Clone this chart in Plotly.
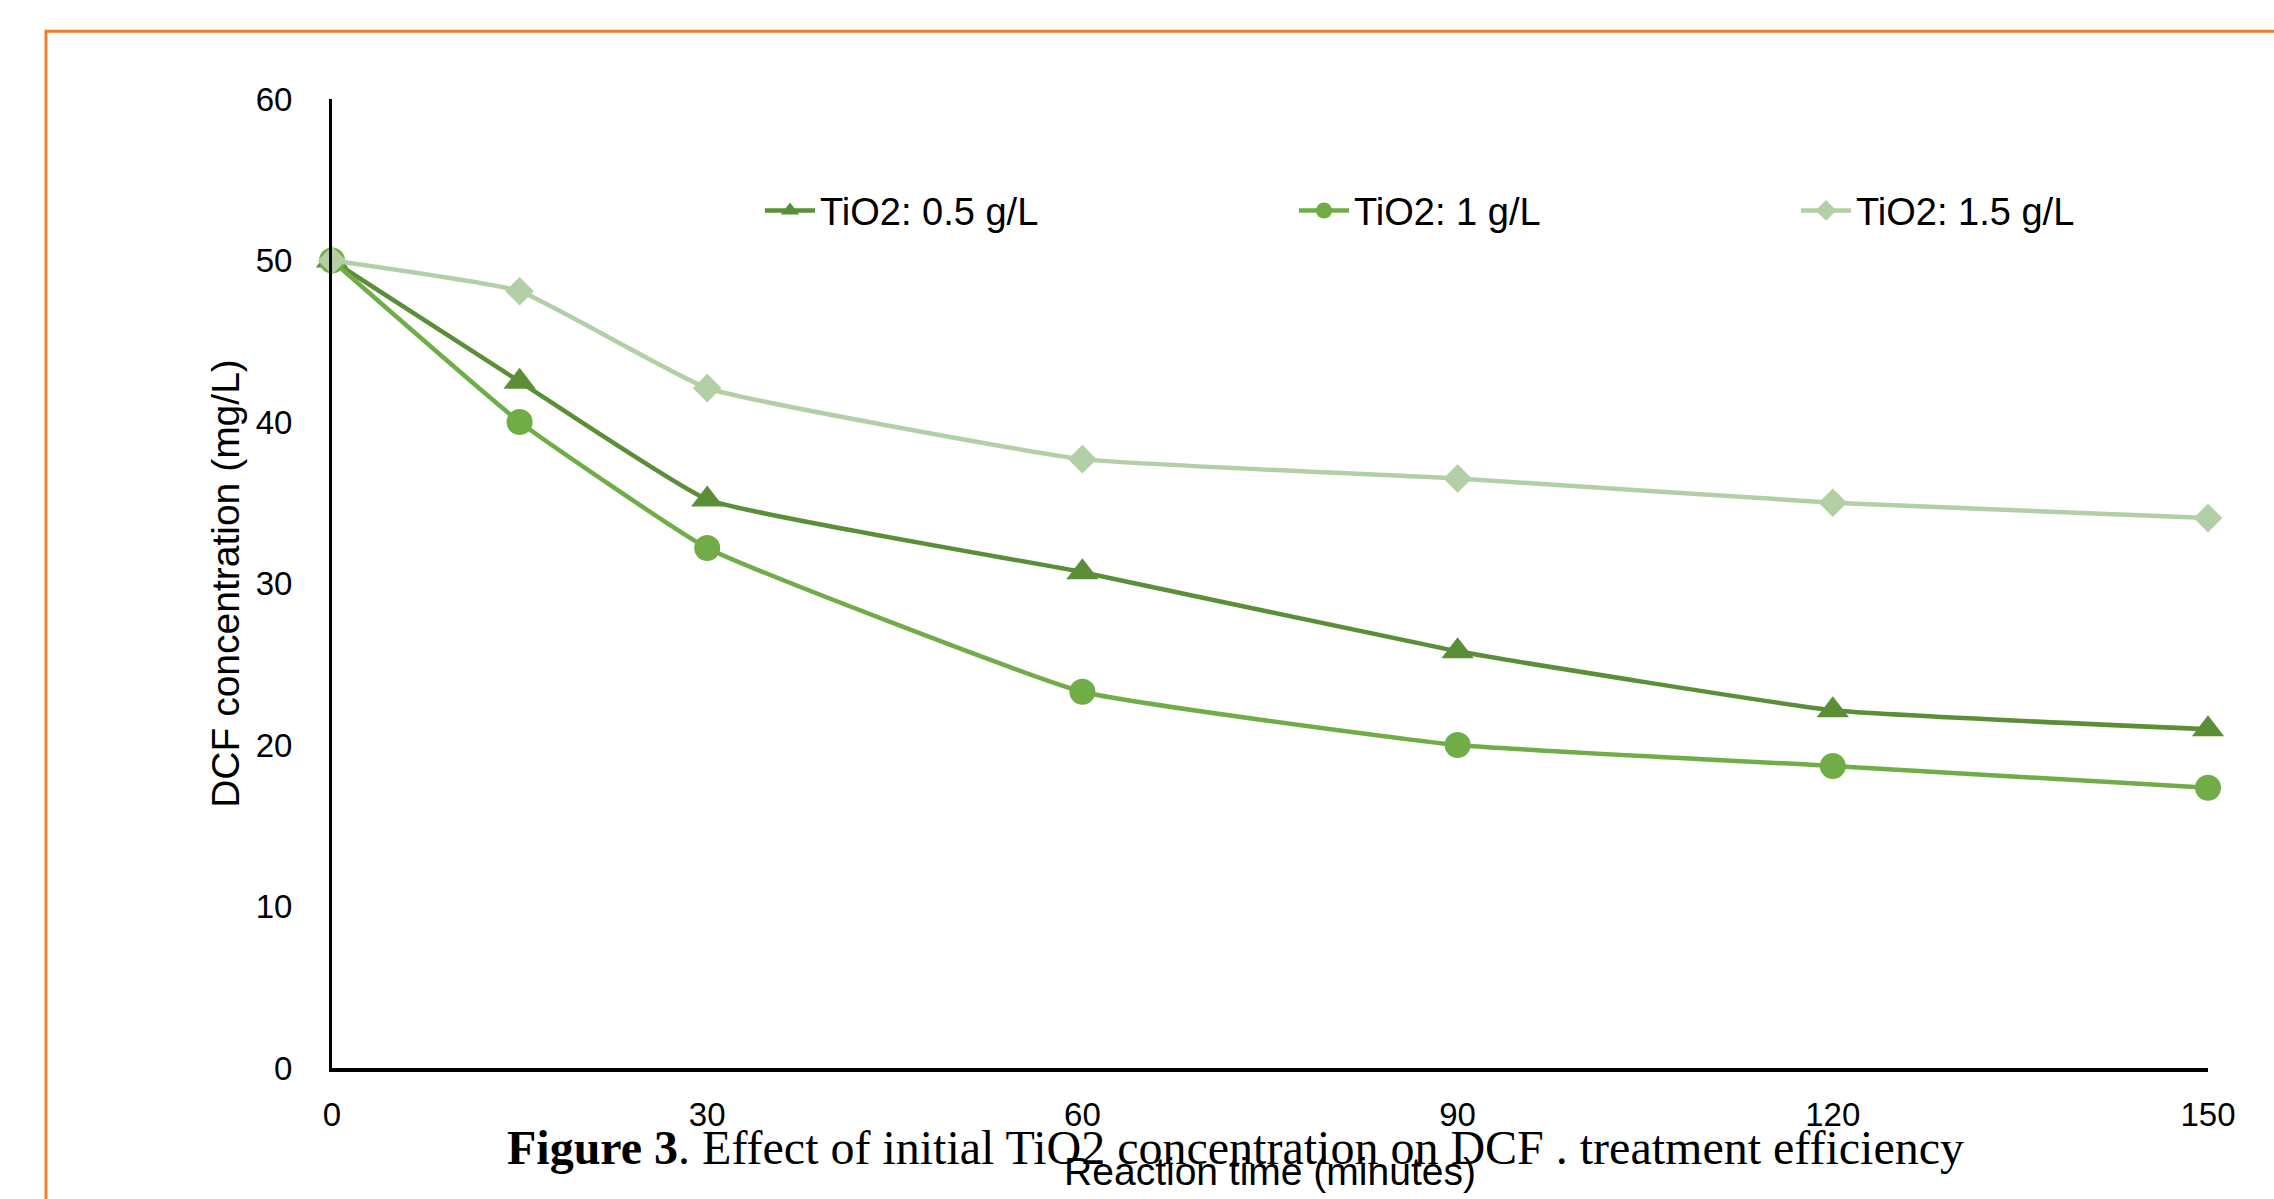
import plotly.graph_objects as go

# ---- data ----
time_min = [0, 15, 30, 60, 90, 120, 150]
tio2_05 = [50.0, 42.5, 35.2, 30.7, 25.8, 22.15, 20.97]
tio2_10 = [50.0, 40.0, 32.2, 23.3, 20.0, 18.7, 17.35]
tio2_15 = [50.0, 48.1, 42.1, 37.7, 36.5, 35.0, 34.05]
series_names = ["TiO2: 0.5 g/L", "TiO2: 1 g/L", "TiO2: 1.5 g/L"]
x_ticks = [0, 30, 60, 90, 120, 150]
y_ticks = [0, 10, 20, 30, 40, 50, 60]

FONT = "Liberation Sans, Arial, sans-serif"
C_DARK = "#5A8F37"
C_MID = "#70AD47"
C_LIGHT = "#B2CFA6"

fig = go.Figure()
fig.add_trace(go.Scatter(
    x=time_min, y=tio2_05, name=series_names[0], mode="lines+markers",
    line=dict(color=C_DARK, width=4.5, shape="spline", smoothing=0.35),
    marker=dict(symbol="triangle-up", size=28, color=C_DARK),
    cliponaxis=False, legend="legend"))
fig.add_trace(go.Scatter(
    x=time_min, y=tio2_10, name=series_names[1], mode="lines+markers",
    line=dict(color=C_MID, width=4.5, shape="spline", smoothing=0.35),
    marker=dict(symbol="circle", size=26, color=C_MID),
    cliponaxis=False, legend="legend2"))
fig.add_trace(go.Scatter(
    x=time_min, y=tio2_15, name=series_names[2], mode="lines+markers",
    line=dict(color=C_LIGHT, width=4.5, shape="spline", smoothing=0.35),
    marker=dict(symbol="diamond", size=22, color=C_LIGHT),
    cliponaxis=False, legend="legend3"))

L, R, T, B = 332, 66, 99, 129
PW = 2274 - L - R
PH = 1199 - T - B

def px(xp):
    return (xp - L) / PW

def py(yp):
    return (1199 - B - yp) / PH

legend_common = dict(orientation="h", xanchor="left", yanchor="middle",
                     font=dict(family=FONT, size=38, color="black"),
                     bgcolor="rgba(0,0,0,0)", itemwidth=50)

fig.update_layout(
    width=2274, height=1199,
    margin=dict(l=L, r=R, t=T, b=B),
    paper_bgcolor="white", plot_bgcolor="white",
    font=dict(family=FONT, color="black"),
    xaxis=dict(range=[0, 150], tickvals=x_ticks, showgrid=False, zeroline=False,
               showline=True, linecolor="black", linewidth=4,
               ticks="outside", ticklen=14, tickcolor="rgba(0,0,0,0)",
               tickfont=dict(family=FONT, size=33, color="black"),
               title=dict(text="Reaction time (minutes)", standoff=27,
                          font=dict(family=FONT, size=39, color="black"))),
    yaxis=dict(range=[0, 60], tickvals=y_ticks, showgrid=False,
               zeroline=True, zerolinecolor="#D9D9D9", zerolinewidth=1,
               showline=True, linecolor="black", linewidth=3,
               ticks="outside", ticklen=30, tickcolor="rgba(0,0,0,0)",
               tickfont=dict(family=FONT, size=33, color="black"),
               title=dict(text="DCF concentration (mg/L)", standoff=5,
                          font=dict(family=FONT, size=39, color="black"))),
    legend=dict(x=px(760), y=py(211), **legend_common),
    legend2=dict(x=px(1294), y=py(211), **legend_common),
    legend3=dict(x=px(1796), y=py(211), **legend_common),
    showlegend=True,
)

# orange frame around the chart
fig.add_shape(type="rect", xref="paper", yref="paper",
              x0=px(46), x1=1.1, y0=-0.3, y1=py(31),
              line=dict(color="#ED7D31", width=3), fillcolor="rgba(0,0,0,0)",
              layer="below")

# figure caption
fig.add_annotation(xref="paper", yref="paper", x=px(1235), y=py(1150),
                   xanchor="center", yanchor="middle", showarrow=False,
                   text="<b>Figure 3</b>. Effect of initial TiO2 concentration on DCF . treatment efficiency",
                   font=dict(family="Liberation Serif, Times New Roman, serif", size=48, color="black"))

fig.write_html("out.html")
